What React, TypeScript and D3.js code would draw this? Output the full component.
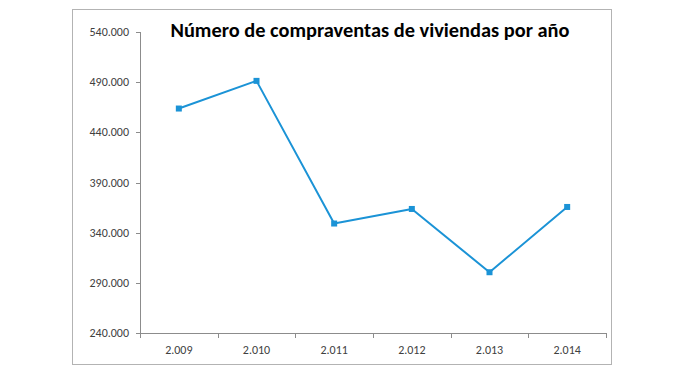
import React from "react";
import * as d3 from "d3";

const years = ["2.009", "2.010", "2.011", "2.012", "2.013", "2.014"];
const sales = [463719, 491287, 349118, 363623, 300568, 365621];
const yTicks = [240000, 290000, 340000, 390000, 440000, 490000, 540000];
const title = "Número de compraventas de viviendas por año";

const fmt = (v: number) => d3.format(",")(v).replace(/,/g, ".");

export default function App() {
  const W = 676, H = 376;
  const x0 = 140, x1 = 606, yTop = 32, yBot = 333;
  const x = d3.scaleBand<string>().domain(years).range([x0, x1]);
  const y = d3.scaleLinear().domain([240000, 540000]).range([yBot, yTop]);
  const line = d3.line<number>()
    .x((_, i) => (x(years[i]) as number) + x.bandwidth() / 2)
    .y((d) => y(d));
  const font = "Calibri, Carlito, 'Liberation Sans', Arial, sans-serif";
  const tickEdges = [...years.map((c) => x(c) as number), x1];
  return (
    <svg width={W} height={H} style={{ position: "absolute", left: 0, top: 0, background: "#fff" }}>
      <rect x={72.5} y={9.5} width={539} height={355} fill="#fff" stroke="#b3b3b3" strokeWidth={1} />
      <text x={370} y={37} textAnchor="middle" fontFamily={font} fontWeight="bold" fontSize={19.5}
        textLength={399} lengthAdjust="spacingAndGlyphs" fill="#000">{title}</text>
      {/* y axis */}
      <line x1={x0 + 0.5} x2={x0 + 0.5} y1={yTop} y2={yBot} stroke="#8c8c8c" />
      {yTicks.map((t) => (
        <g key={t}>
          <line x1={x0 - 4} x2={x0} y1={Math.round(y(t)) + 0.5} y2={Math.round(y(t)) + 0.5} stroke="#8c8c8c" />
          <text x={129} y={y(t) + 4} textAnchor="end" fontFamily={font} fontSize={12} fill="#404040">{fmt(t)}</text>
        </g>
      ))}
      {/* x axis */}
      <line x1={x0} x2={x1} y1={yBot + 0.5} y2={yBot + 0.5} stroke="#8c8c8c" />
      {tickEdges.map((e, i) => (
        <line key={i} x1={Math.round(e) + 0.5} x2={Math.round(e) + 0.5} y1={yBot} y2={yBot + 5} stroke="#8c8c8c" />
      ))}
      {years.map((c) => (
        <text key={c} x={(x(c) as number) + x.bandwidth() / 2} y={354} textAnchor="middle" fontFamily={font}
          fontSize={12} fill="#404040">{c}</text>
      ))}
      <path d={line(sales) || ""} fill="none" stroke="#1b93d6" strokeWidth={2} strokeLinejoin="round" />
      {sales.map((v, i) => (
        <rect key={i} x={(x(years[i]) as number) + x.bandwidth() / 2 - 3} y={y(v) - 3} width={6} height={6} fill="#1b93d6" />
      ))}
    </svg>
  );
}
